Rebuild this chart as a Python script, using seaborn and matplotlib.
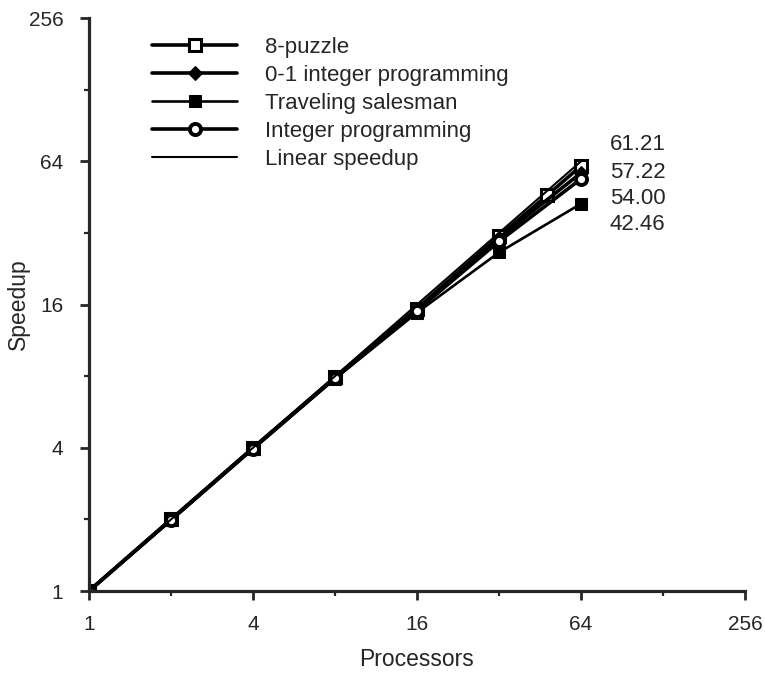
import matplotlib
matplotlib.use("Agg")
import matplotlib.pyplot as plt
import seaborn as sns
import pandas as pd
from matplotlib.ticker import FixedLocator, NullFormatter

sns.set_style("ticks")
plt.rcParams['font.family'] = ['Liberation Sans', 'DejaVu Sans']

series_names = ["8-puzzle", "0-1 integer programming", "Traveling salesman",
                "Integer programming", "Linear speedup"]
procs_puzzle = [1, 2, 4, 8, 16, 32, 48, 64]
speed_puzzle = [1, 2.0, 4.0, 7.9, 15.4, 31.0, 46.0, 61.21]
procs_zero_one = [1, 2, 4, 8, 16, 32, 64]
speed_zero_one = [1, 2.0, 3.98, 7.9, 15.3, 30.5, 57.22]
procs_tsp = [1, 2, 4, 8, 16, 32, 64]
speed_tsp = [1, 1.98, 3.95, 7.8, 14.8, 26.5, 42.46]
procs_ip = [1, 2, 4, 8, 16, 32, 64]
speed_ip = [1, 1.99, 3.97, 7.85, 15.1, 29.5, 54.00]
procs_linear = [1, 64]
speed_linear = [1, 64]
end_labels = ["61.21", "57.22", "54.00", "42.46"]
tick_vals = [1, 4, 16, 64, 256]
minor_vals = [2, 8, 32, 128]

fig = plt.figure(figsize=(7.65, 6.74), dpi=100)
ax = fig.add_axes([0.1163, 0.1231, 0.8575, 0.850])

styles = [
    dict(marker="s", markerfacecolor="white", markeredgecolor="black", markeredgewidth=2.2, markersize=8, linewidth=2.6),
    dict(marker="D", markerfacecolor="black", markeredgecolor="black", markersize=7, linewidth=2.6),
    dict(marker="s", markerfacecolor="black", markeredgecolor="black", markersize=9, linewidth=1.9),
    dict(marker="o", markerfacecolor="white", markeredgecolor="black", markeredgewidth=2.8, markersize=8, linewidth=2.6),
    dict(marker=None, linewidth=1.5),
]
datasets = [(procs_puzzle, speed_puzzle), (procs_zero_one, speed_zero_one),
            (procs_tsp, speed_tsp), (procs_ip, speed_ip), (procs_linear, speed_linear)]

for name, (xs, ys), st in zip(series_names, datasets, styles):
    df = pd.DataFrame({"Processors": xs, "Speedup": ys})
    sns.lineplot(data=df, x="Processors", y="Speedup", ax=ax, color="black",
                 label=name, **st)

ax.set_xscale("log", base=2)
ax.set_yscale("log", base=2)
ax.set_xlim(1, 256)
ax.set_ylim(1, 256)
ax.xaxis.set_major_locator(FixedLocator(tick_vals))
ax.yaxis.set_major_locator(FixedLocator(tick_vals))
ax.xaxis.set_minor_locator(FixedLocator(minor_vals))
ax.yaxis.set_minor_locator(FixedLocator(minor_vals))
ax.xaxis.set_minor_formatter(NullFormatter())
ax.yaxis.set_minor_formatter(NullFormatter())
ax.set_xticklabels([str(v) for v in tick_vals])
ax.set_yticklabels([str(v) for v in tick_vals])
ax.tick_params(which="major", length=6.5, width=2, labelsize=15, direction="out")
ax.tick_params(which="minor", length=3.6, width=1.6, direction="out")
ax.tick_params(axis="x", which="major", pad=11)
ax.tick_params(axis="y", which="major", pad=12)
sns.despine(ax=ax)
for s in ["left", "bottom"]:
    ax.spines[s].set_linewidth(2.3)
ax.set_xlabel("Processors", fontsize=16.5, labelpad=10)
ax.set_ylabel("Speedup", fontsize=16.5)
ax.yaxis.set_label_coords(-0.09, 0.5)

leg = ax.legend(loc="upper left", bbox_to_anchor=(0.096, 0.967), frameon=False,
                fontsize=16, handlelength=3.85, handletextpad=1.25, labelspacing=0.31,
                borderpad=0, borderaxespad=0)

label_y = [0.780, 0.731, 0.686, 0.639]
for lab, yy in zip(end_labels, label_y):
    ax.text(0.794, yy, lab, transform=ax.transAxes, fontsize=16,
            ha="left", va="center")

fig.savefig("out.png", dpi=100)
